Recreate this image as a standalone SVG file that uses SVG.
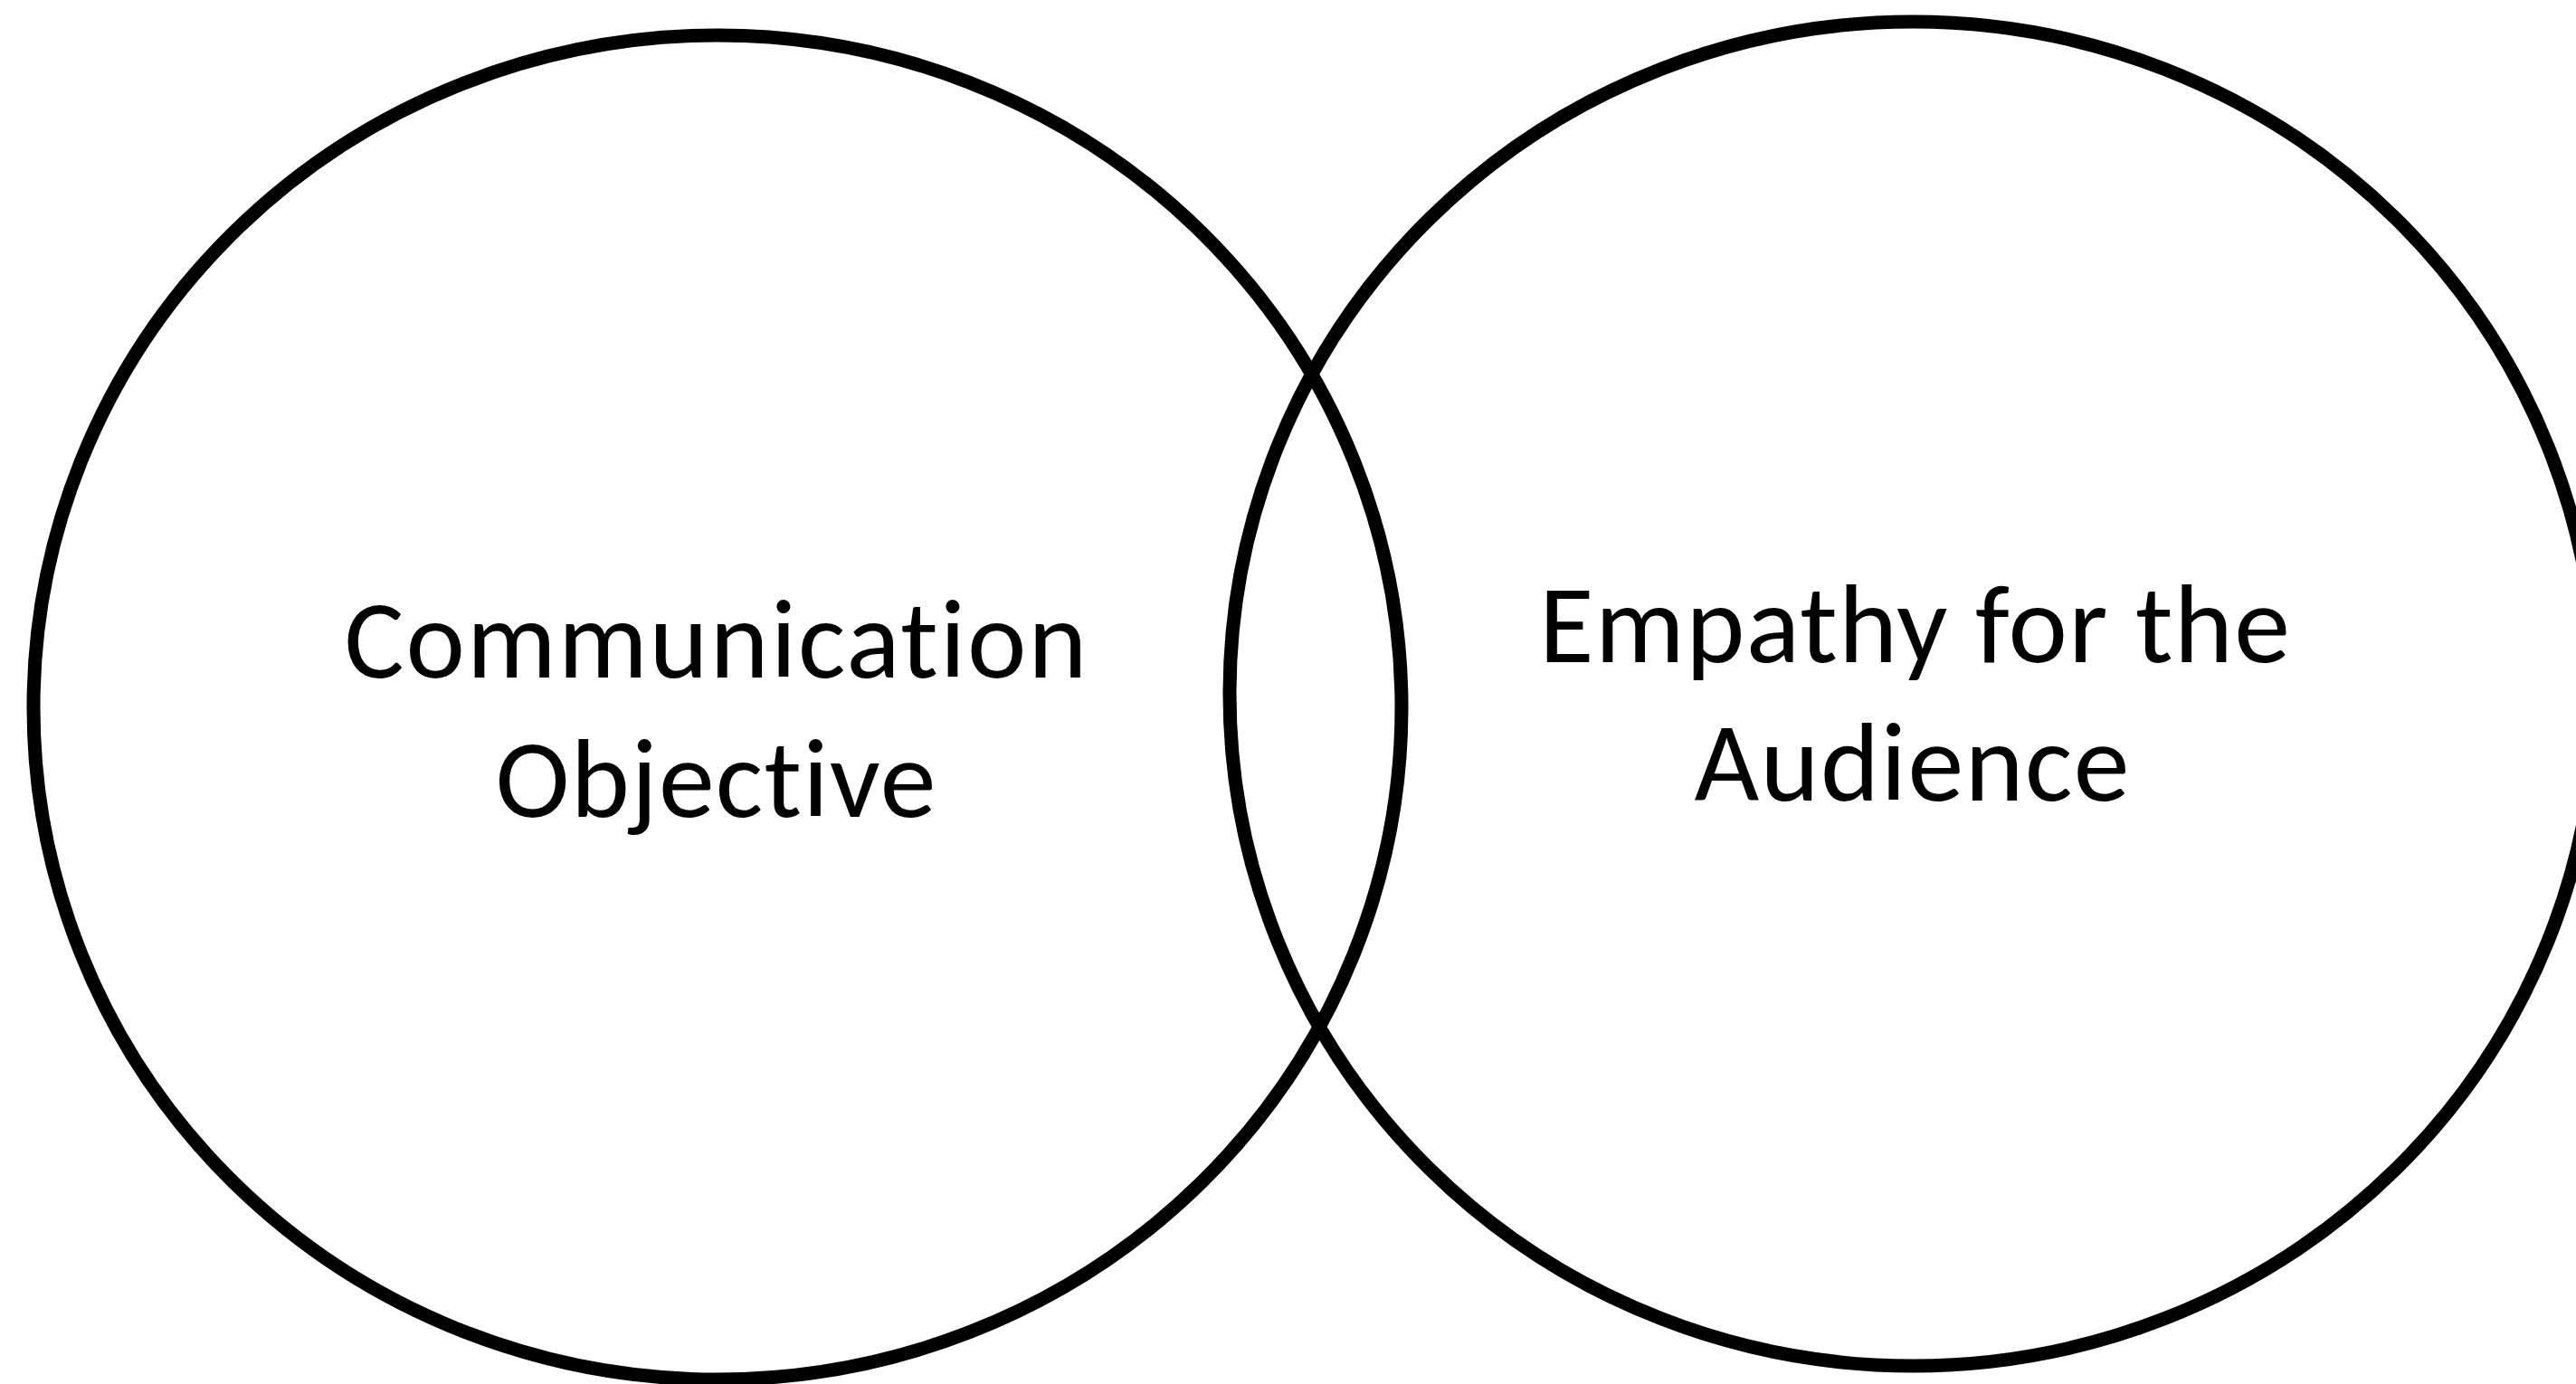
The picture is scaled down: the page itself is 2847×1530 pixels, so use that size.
<svg xmlns="http://www.w3.org/2000/svg" width="2847" height="1530" viewBox="0 0 2847 1530">
  <style>
    .ring { fill: none; stroke: #000; stroke-width: 15; }
    .label { font-family: Carlito, Lato, "Open Sans", sans-serif; font-size: 124px; fill: #000; text-anchor: middle; font-variant-ligatures: none; font-feature-settings: "liga" 0, "dlig" 0; }
  </style>
  <rect width="2847" height="1530" fill="#fff"/>

  <!-- left set -->
  <g id="communication-objective">
    <ellipse class="ring" cx="793" cy="782" rx="756" ry="743"/>
    <text class="label" x="791" y="749" textLength="821" lengthAdjust="spacing">Communication</text>
    <text class="label" x="791" y="903" textLength="487" lengthAdjust="spacing">Objective</text>
  </g>

  <!-- right set (runs slightly past the right edge) -->
  <g id="empathy-for-the-audience">
    <ellipse class="ring" cx="2114" cy="767" rx="755" ry="743"/>
    <text class="label" x="2116" y="732" textLength="830" lengthAdjust="spacing">Empathy for the</text>
    <text class="label" x="2113" y="885" textLength="481" lengthAdjust="spacing">Audience</text>
  </g>

  <g id="connectors"/>
</svg>
